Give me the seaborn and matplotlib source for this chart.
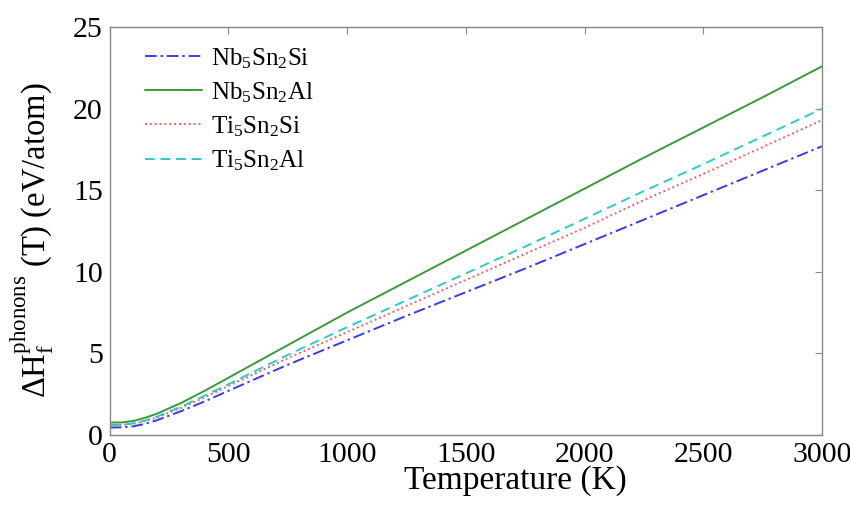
import numpy as np
import pandas as pd
import matplotlib
matplotlib.use("Agg")
import matplotlib.pyplot as plt
import seaborn as sns

# -----------------------------
# Data
# -----------------------------
temperature = [0, 50, 100, 150, 200, 300, 400, 500, 750, 1000, 1250,
               1500, 1750, 2000, 2250, 2500, 2750, 3000]

nb5sn2si = [0.45, 0.46, 0.52, 0.68, 0.9, 1.45, 2.05, 2.7, 4.3, 5.8, 7.3,
            8.75, 10.2, 11.7, 13.2, 14.7, 16.2, 17.7]
nb5sn2al = [0.75, 0.76, 0.85, 1.05, 1.3, 1.95, 2.7, 3.5, 5.5, 7.5, 9.4,
            11.3, 13.2, 15.1, 17.0, 18.85, 20.7, 22.6]
ti5sn2si = [0.6, 0.61, 0.68, 0.85, 1.07, 1.65, 2.3, 3.0, 4.7, 6.3, 7.9,
            9.5, 11.1, 12.7, 14.4, 16.0, 17.65, 19.3]
ti5sn2al = [0.6, 0.61, 0.7, 0.88, 1.12, 1.72, 2.4, 3.1, 4.9, 6.6, 8.25,
            9.9, 11.55, 13.25, 14.95, 16.6, 18.3, 20.0]

labels = [r"Nb$_5$Sn$_2$Si", r"Nb$_5$Sn$_2$Al", r"Ti$_5$Sn$_2$Si", r"Ti$_5$Sn$_2$Al"]
series = [nb5sn2si, nb5sn2al, ti5sn2si, ti5sn2al]
colors = ["#3a3aee", "#3a9a3a", "#f06060", "#30c8c8"]
dashes = [(6, 2, 1.2, 2), None, (1, 1.5), (5, 3)]

# -----------------------------
# Style
# -----------------------------
sns.set_style("white")
plt.rcParams["font.family"] = ["Liberation Serif", "DejaVu Serif"]
plt.rcParams["mathtext.fontset"] = "custom"
plt.rcParams["mathtext.rm"] = "Liberation Serif"
plt.rcParams["mathtext.it"] = "Liberation Serif:italic"
plt.rcParams["text.color"] = "black"
plt.rcParams["axes.labelcolor"] = "black"
plt.rcParams["xtick.color"] = "black"
plt.rcParams["ytick.color"] = "black"

df = pd.concat(
    [pd.DataFrame({"T": temperature, "H": vals, "name": lab})
     for lab, vals in zip(labels, series)],
    ignore_index=True,
)

fig = plt.figure(figsize=(8.5, 5.14), dpi=100)
ax = fig.add_axes([0.129, 0.154, 0.838, 0.793])

for lab, col, d in zip(labels, colors, dashes):
    sub = df[df["name"] == lab]
    sns.lineplot(data=sub, x="T", y="H", ax=ax, color=col,
                 linewidth=1.4, label=lab)
    if d is not None:
        ax.lines[-1].set_dashes(d)

ax.set_xlim(0, 3000)
ax.set_ylim(0, 25)
ax.set_xticks(np.arange(0, 3001, 500))
ax.set_yticks(np.arange(0, 26, 5))
ax.tick_params(direction="in", top=True, right=True, length=5,
               color="#888888", labelcolor="black", labelsize=21.5, pad=5)
for sp in ax.spines.values():
    sp.set_color("#888888")
    sp.set_linewidth(1.0)

ax.set_xlabel("Temperature (K)", fontsize=24)
ax.xaxis.set_label_coords(0.57, -0.075)
ax.set_ylabel(r"$\Delta\mathrm{H}_\mathrm{f}^\mathrm{phonons}$ (T) (eV/atom)",
              fontsize=23.5)
ax.yaxis.set_label_coords(-0.076, 0.478)

ax.legend(loc="upper left", frameon=False, fontsize=18, handlelength=2.3,
          handletextpad=0.35, labelspacing=0.38, borderaxespad=0.3,
          bbox_to_anchor=(0.025, 0.997))

fig.savefig("out.png", dpi=100)
